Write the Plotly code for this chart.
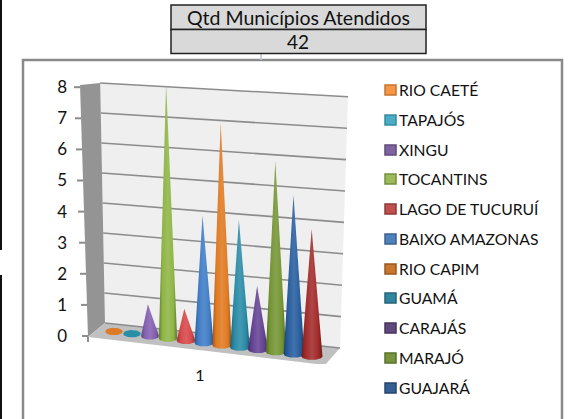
import numpy as np
import plotly.graph_objects as go

W, H = 568, 419
table_header = "Qtd Municípios Atendidos"
table_value = "42"
legend_names = ["RIO CAETÉ", "TAPAJÓS", "XINGU", "TOCANTINS", "LAGO DE TUCURUÍ", "BAIXO AMAZONAS",
                "RIO CAPIM", "GUAMÁ", "CARAJÁS", "MARAJÓ", "GUAJARÁ"]
# The 12th cone's legend entry is cut off in the reference
cone_names = legend_names + [""]
cone_values = [0, 0, 1, 8, 1, 4, 7, 4, 2, 6, 5, 4]
cone_colors = ["#DC7A28", "#2A8EA6", "#8560B2", "#8FB545", "#D6484A", "#3F7CC6",
               "#E07A22", "#2A8BA6", "#644394", "#749534", "#275E9F", "#A32B2B"]
legend_fill = ["#F79646", "#4BACC6", "#8064A2", "#9BBB59", "#C0504D", "#4F81BD",
               "#C9772F", "#31859C", "#604A7B", "#77933C", "#376092"]
legend_edge = ["#C4742F", "#368AA0", "#5F4A7A", "#76903F", "#8E3A38", "#3A618E",
               "#97591F", "#24637A", "#46355C", "#58702B", "#254570"]
y_ticks = [0, 1, 2, 3, 4, 5, 6, 7, 8]
x_label = "1"

# plot area in pixels, and the two scales
L, R, T, B = 74, 362, 66, 364
UNIT = 31.1
X0, STEP = 114.0, 18.0
def ix(px):
    return (np.asarray(px, dtype=float) - X0) / STEP
def iy(py):
    return (336 - np.asarray(py, dtype=float)) / UNIT
def paper_x(px):
    return (px - L) / (R - L)
def paper_y(py):
    return (B - py) / (B - T)

# oblique projection of the chart box
def back_left(v):
    return 105 - 0.6 * v, 323 - 30.0 * v
def back_right(v):
    return 340 + 1.0 * v, 348 - 31.4 * v
front_left = (88, 337)
front_right = (325, 365)
top_v = max(y_ticks)

fig = go.Figure()

def poly(xs, ys, fill=None, grad=None, line=None, width=0):
    tr = dict(x=ix(xs), y=iy(ys), mode="lines", fill="toself", hoverinfo="skip", showlegend=False,
              line=dict(color=line or "rgba(0,0,0,0)", width=width))
    if grad:
        tr["fillgradient"] = dict(type="horizontal", colorscale=grad)
    else:
        tr["fillcolor"] = fill
    fig.add_trace(go.Scatter(**tr))

# back wall
bl0, br0, bl8, br8 = back_left(0), back_right(0), back_left(top_v), back_right(top_v)
poly([bl0[0], br0[0], br8[0], bl8[0]], [bl0[1], br0[1], br8[1], bl8[1]], fill="#EFEFEF")
# side wall
wall_front_top = (80, 85)
poly([front_left[0], bl0[0], bl8[0], wall_front_top[0]], [front_left[1], bl0[1], bl8[1], wall_front_top[1]], fill="#949494")
# floor
poly([front_left[0], front_right[0], br0[0], bl0[0]], [front_left[1], front_right[1], br0[1], bl0[1]], fill="#C0C0C0")
# gridlines
for v in y_ticks:
    a, b = back_left(v), back_right(v)
    fig.add_trace(go.Scatter(x=ix([a[0], b[0]]), y=iy([a[1], b[1]]), mode="lines", hoverinfo="skip",
                             showlegend=False, line=dict(color="#8C8C8C", width=1.6)))
    # tick marks on the front edge of the wall
    fx = front_left[0] + (wall_front_top[0] - front_left[0]) * v / top_v
    fig.add_trace(go.Scatter(x=ix([fx - 6, fx]), y=[v, v], mode="lines", hoverinfo="skip",
                             showlegend=False, line=dict(color="#8C8C8C", width=2)))
# front floor ticks
for p in (front_left, front_right):
    fig.add_trace(go.Scatter(x=ix([p[0], p[0]]), y=iy([p[1], p[1] + 5]), mode="lines", hoverinfo="skip",
                             showlegend=False, line=dict(color="#8C8C8C", width=2)))

def shade(col, f):
    c = [int(col[i:i + 2], 16) for i in (1, 3, 5)]
    if f < 1:
        c = [int(x * f) for x in c]
    else:
        c = [int(x + (255 - x) * (f - 1)) for x in c]
    return "rgb(%d,%d,%d)" % tuple(c)

# cones
t = np.linspace(0, np.pi, 24)
for i, (name, val, col) in enumerate(zip(cone_names, cone_values, cone_colors)):
    bx = X0 + STEP * i
    by = 331.5 + 2.25 * i
    hw = 8.6 + 0.17 * i
    hh = 3.8
    grad = [[0, shade(col, 0.7)], [0.2, col], [0.5, shade(col, 1.13)], [0.8, col], [1, shade(col, 0.66)]]
    ex = bx + hw * np.cos(t)
    ey = by + hh * np.sin(t)
    if val == 0:
        xs = np.concatenate([ex, bx + hw * np.cos(t + np.pi)])
        ys = np.concatenate([ey, by + hh * np.sin(t + np.pi)])
        fig.add_trace(go.Scatter(x=ix(xs), y=iy(ys), mode="lines", fill="toself", fillcolor=col,
                                 line=dict(width=0, color=col), name=name or "série 12", showlegend=False,
                                 hovertemplate="%{text}<extra></extra>", text=[f"{name}: {val}"] * len(xs)))
    else:
        tipx, tipy = bx - 2.5 + 0.2 * i, by - val * 31.8
        xs = np.concatenate([ex, [tipx], ex[:1]])
        ys = np.concatenate([ey, [tipy], ey[:1]])
        fig.add_trace(go.Scatter(x=ix(xs), y=iy(ys), mode="lines", fill="toself",
                                 fillgradient=dict(type="horizontal", colorscale=grad),
                                 line=dict(width=0, color=col), name=name or "série 12", showlegend=False,
                                 hovertemplate="%{text}<extra></extra>", text=[f"{name}: {val}"] * len(xs)))

shapes, ann = [], []
def rect(x0, y0, x1, y1, fill="rgba(0,0,0,0)", line="rgba(0,0,0,0)", w=0, layer="above"):
    shapes.append(dict(type="rect", xref="paper", yref="paper", x0=paper_x(x0), x1=paper_x(x1),
                       y0=paper_y(y0), y1=paper_y(y1), fillcolor=fill, line=dict(color=line, width=w), layer=layer))
def text(px, py, s, size, anchor="center", color="#111111"):
    ann.append(dict(xref="paper", yref="paper", x=paper_x(px), y=paper_y(py), text=s, showarrow=False,
                    xanchor=anchor, yanchor="middle", font=dict(family="Lato", size=size, color=color)))

# outer chart frame and surroundings
rect(23, 60, 562, 430, fill="white", line="#8A8A8A", w=2.5, layer="below")
rect(0, 0, 2, 250, fill="#111111")
rect(0, 275, 2, 419, fill="#111111")
shapes.append(dict(type="line", xref="paper", yref="paper", x0=paper_x(261), x1=paper_x(261),
                   y0=paper_y(54), y1=paper_y(60), line=dict(color="#B8C4D6", width=1.5)))
# table
rect(171, 5, 426, 29.5, fill="#D9D9D9", line="#222222", w=1.5)
rect(171, 29.5, 426, 53.5, fill="#D9D9D9", line="#222222", w=1.5)
text(298, 17.5, table_header, 19.5)
text(298, 42, table_value, 19)
# legend
leg_y = [90, 120, 150, 179, 209, 239, 269, 298, 328, 358, 388]
for n, f, e, y in zip(legend_names, legend_fill, legend_edge, leg_y):
    rect(385, y - 5, 396, y + 5, fill=f, line=e, w=1.5)
    text(397, y, n, 15.7, anchor="left")

fig.update_layout(
    width=W, height=H, autosize=False, margin=dict(l=L, r=W - R, t=T, b=H - B),
    paper_bgcolor="white", plot_bgcolor="rgba(0,0,0,0)", showlegend=False, shapes=shapes, annotations=ann,
    font=dict(family="Lato", size=15, color="#111111"),
    xaxis=dict(range=[float(ix(L)), float(ix(R))], showgrid=False, zeroline=False, showline=False, ticks="",
               tickmode="array", tickvals=[float(ix(200))], ticktext=[x_label], tickfont=dict(size=16), fixedrange=True),
    yaxis=dict(range=[float(iy(B)), float(iy(T))], showgrid=False, zeroline=False, showline=False, ticks="",
               ticklabelstandoff=6,
               tickmode="array", tickvals=y_ticks, ticktext=[str(v) for v in y_ticks], tickfont=dict(size=17), fixedrange=True),
)
fig.write_html("out.html", config=dict(displayModeBar=False),
               post_script="document.body.style.margin='0';document.documentElement.style.overflow='hidden';")
